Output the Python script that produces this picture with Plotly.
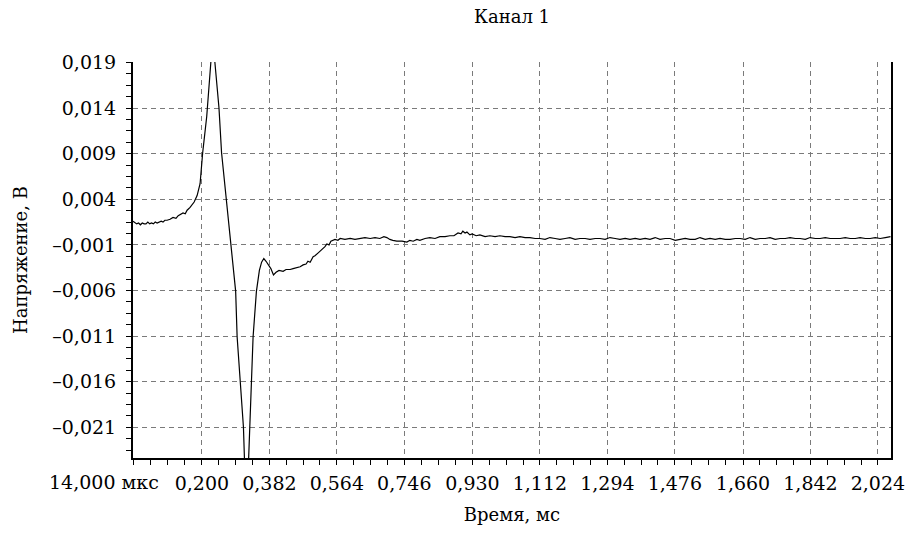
import numpy as np
import plotly.graph_objects as go

# ---- data (time in ms, voltage in V) ----
t_pre = [0.014, 0.019, 0.024, 0.029, 0.034, 0.039, 0.044, 0.049, 0.054, 0.059,
         0.064, 0.069, 0.074, 0.079, 0.084]
v_pre = [0.0016, 0.0014, 0.0013, 0.0014, 0.0012, 0.0014, 0.0013, 0.0013, 0.0015, 0.0013,
         0.0014, 0.0013, 0.0015, 0.0014, 0.0015]

t_pulse = [0.090, 0.095, 0.100, 0.106, 0.114, 0.122, 0.130, 0.136, 0.141, 0.149,
           0.155, 0.160, 0.168, 0.174, 0.179, 0.187, 0.195, 0.202, 0.207, 0.213,
           0.224, 0.229,
           0.235, 0.246, 0.253, 0.265, 0.278, 0.291, 0.295, 0.303, 0.312, 0.320,
           0.329, 0.334, 0.338, 0.347, 0.355, 0.361, 0.367, 0.373, 0.379, 0.386,
           0.393]
v_pulse = [0.0016, 0.0015, 0.0017, 0.0017, 0.0018, 0.0020, 0.0019, 0.0022, 0.0023, 0.0025,
           0.0024, 0.0028, 0.0031, 0.0034, 0.0037, 0.0044, 0.0057, 0.0091, 0.0110, 0.0131,
           0.0190, 0.0219,
           0.0190, 0.0140, 0.0091, 0.0041, -0.0009, -0.0061, -0.0111, -0.0160, -0.0210, -0.0311,
           -0.0210, -0.0160, -0.0111, -0.0061, -0.0038, -0.0029, -0.0025, -0.0028, -0.0032, -0.0036,
           -0.0043]

t_recovery = [0.400, 0.408, 0.419, 0.427, 0.438, 0.446, 0.454, 0.465, 0.473, 0.481,
              0.486, 0.492, 0.500, 0.505, 0.513, 0.519, 0.524, 0.532, 0.537, 0.543,
              0.548, 0.559, 0.567, 0.573, 0.586, 0.600, 0.613, 0.627, 0.640, 0.654,
              0.667, 0.680, 0.691, 0.699, 0.707, 0.715, 0.726, 0.740, 0.753, 0.761,
              0.770, 0.780, 0.788, 0.802, 0.815, 0.829, 0.842, 0.856, 0.869, 0.880,
              0.891, 0.899, 0.904, 0.910, 0.915, 0.923, 0.929, 0.940, 0.950, 0.964,
              0.977, 0.991, 1.004, 1.018, 1.031, 1.045, 1.058, 1.072, 1.085, 1.099]
v_recovery = [-0.0040, -0.0038, -0.0039, -0.0037, -0.0037, -0.0036, -0.0035, -0.0034, -0.0032, -0.0031,
              -0.0028, -0.0029, -0.0023, -0.0022, -0.0019, -0.0017, -0.0015, -0.0012, -0.0009, -0.0010,
              -0.0006, -0.0004, -0.0005, -0.0003, -0.0004, -0.0003, -0.0004, -0.0003, -0.0002, -0.0003,
              -0.0002, -0.0003, -0.0001, -0.0002, -0.0004, -0.0005, -0.0006, -0.0006, -0.0007, -0.0005,
              -0.0006, -0.0004, -0.0005, -0.0003, -0.0002, -0.0003, -0.0001, -0.0001, 0.0000, 0.0000,
              0.0003, 0.0002, 0.0005, 0.0003, 0.0004, 0.0001, 0.0002, 0.0000, 0.0001, -0.0001,
              0.0000, -0.0001, 0.0000, -0.0001, -0.0001, -0.0002, -0.0001, -0.0002, -0.0002, -0.0003]

t_tail = [1.112, 1.126, 1.139, 1.153, 1.166, 1.180, 1.193, 1.207, 1.220, 1.234,
          1.247, 1.261, 1.274, 1.288, 1.301, 1.315, 1.328, 1.342, 1.355, 1.369,
          1.382, 1.396, 1.409, 1.423, 1.436, 1.450, 1.463, 1.477, 1.490, 1.504,
          1.517, 1.531, 1.544, 1.558, 1.571, 1.585, 1.598, 1.612, 1.625, 1.639,
          1.652, 1.666, 1.679, 1.693, 1.706, 1.720, 1.733, 1.747, 1.760, 1.774,
          1.787, 1.801, 1.814, 1.828, 1.841, 1.855, 1.868, 1.882, 1.895, 1.909,
          1.922, 1.936, 1.949, 1.963, 1.976, 1.990, 2.003, 2.017, 2.030, 2.044,
          2.058]
v_tail = [-0.0003, -0.0004, -0.0002, -0.0003, -0.0004, -0.0003, -0.0002, -0.0004, -0.0003, -0.0003,
          -0.0004, -0.0003, -0.0003, -0.0004, -0.0002, -0.0003, -0.0004, -0.0003, -0.0004, -0.0003,
          -0.0004, -0.0003, -0.0004, -0.0002, -0.0004, -0.0003, -0.0003, -0.0005, -0.0004, -0.0003,
          -0.0004, -0.0004, -0.0002, -0.0004, -0.0003, -0.0004, -0.0003, -0.0004, -0.0004, -0.0003,
          -0.0003, -0.0004, -0.0002, -0.0004, -0.0003, -0.0003, -0.0002, -0.0004, -0.0003, -0.0003,
          -0.0002, -0.0003, -0.0003, -0.0004, -0.0002, -0.0003, -0.0003, -0.0002, -0.0003, -0.0003,
          -0.0003, -0.0002, -0.0003, -0.0003, -0.0002, -0.0003, -0.0003, -0.0002, -0.0003, -0.0002,
          -0.0001]

x_tickvals = [0.014, 0.200, 0.382, 0.564, 0.746, 0.930, 1.112, 1.294, 1.476, 1.660, 1.842, 2.024]
x_ticktext = ["", "0,200", "0,382", "0,564", "0,746", "0,930",
              "1,112", "1,294", "1,476", "1,660", "1,842", "2,024"]
x_first_label = "14,000 мкс"
y_tickvals = [0.019, 0.014, 0.009, 0.004, -0.001, -0.006, -0.011, -0.016, -0.021]
y_ticktext = ["0,019", "0,014", "0,009", "0,004", "–0,001", "–0,006", "–0,011", "–0,016", "–0,021"]

time_ms = t_pre + t_pulse + t_recovery + t_tail
voltage_v = v_pre + v_pulse + v_recovery + v_tail

# minor ticks: 4 subdivisions per major interval
x_minor = []
for a, b in zip(x_tickvals[:-1], x_tickvals[1:]):
    x_minor.extend(np.linspace(a, b, 5)[1:-1].tolist())

FONT = "DejaVu Serif"
GRID = "#7a7a7a"
FS = 19

fig = go.Figure()
fig.add_trace(go.Scatter(x=time_ms, y=voltage_v, mode="lines",
                         line=dict(color="black", width=1.2), hoverinfo="skip"))

fig.update_layout(
    width=915, height=533,
    margin=dict(l=133, r=24, t=62, b=75, autoexpand=False),
    paper_bgcolor="white", plot_bgcolor="white",
    font=dict(family=FONT, size=FS, color="black"),
    showlegend=False,
    title=dict(text="Канал 1", x=0.5, xref="paper", xanchor="center",
               y=1 - 17 / 533, yref="container", yanchor="middle",
               font=dict(family=FONT, size=FS - 1, color="black")),
)

fig.add_annotation(text=x_first_label, xref="x", x=x_tickvals[0], yref="paper", y=0,
                   xanchor="right", yanchor="top", xshift=28, yshift=-11,
                   showarrow=False, font=dict(family=FONT, size=FS, color="black"))

fig.update_xaxes(
    range=[0.014, 2.0593], tickmode="array", tickvals=x_tickvals, ticktext=x_ticktext,
    tickangle=0, automargin=False,
    ticks="outside", ticklen=5, tickwidth=1, tickcolor="black", ticklabelstandoff=2,
    showline=True, linecolor="black", linewidth=2, mirror=False,
    showgrid=True, gridcolor=GRID, gridwidth=1, griddash="5px,4px", zeroline=False,
    minor=dict(tickmode="array", tickvals=x_minor, ticks="outside", ticklen=5,
               tickcolor="black", tickwidth=1, showgrid=False),
    title=dict(text="Время, мс", standoff=16, font=dict(family=FONT, size=FS - 1)),
    tickfont=dict(family=FONT, size=FS, color="black"),
)
fig.update_yaxes(
    range=[-0.02437, 0.01905], tickmode="array", tickvals=y_tickvals, ticktext=y_ticktext,
    automargin=False,
    ticks="outside", ticklen=5, tickwidth=1, tickcolor="black", ticklabelstandoff=6,
    showline=True, linecolor="black", linewidth=2, mirror=True,
    showgrid=True, gridcolor=GRID, gridwidth=1, griddash="5px,4px", zeroline=False,
    minor=dict(tick0=0.019, dtick=0.00125, ticks="outside", ticklen=5,
               tickcolor="black", tickwidth=1, showgrid=False),
    title=dict(text="Напряжение, В", standoff=20, font=dict(family=FONT, size=FS - 1)),
    tickfont=dict(family=FONT, size=FS, color="black"),
)

fig.write_html("out.html")
